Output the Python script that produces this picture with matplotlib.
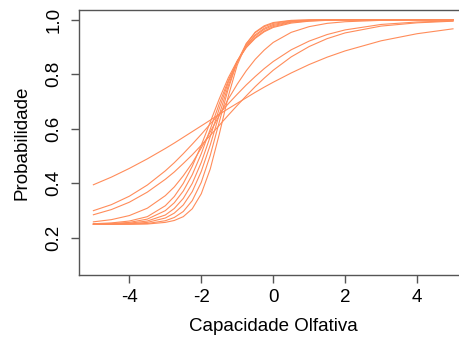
import matplotlib
matplotlib.use("Agg")
import matplotlib.pyplot as plt

plt.rcParams['font.family'] = ['Liberation Sans', 'DejaVu Sans']
plt.rcParams['axes.unicode_minus'] = False

# ability grid (Capacidade Olfativa) where each item curve is read
theta = [-5, -4.5, -4, -3.5, -3, -2.75, -2.5, -2.25, -2, -1.75, -1.5, -1.25,
         -1, -0.75, -0.5, -0.25, 0, 0.5, 1, 1.5, 2, 3, 4, 5]

# probability of a correct answer for each item
item_f = [0.395, 0.423, 0.455, 0.490, 0.528, 0.548, 0.569, 0.590, 0.611, 0.632, 0.653, 0.674,
          0.694, 0.714, 0.734, 0.753, 0.771, 0.805, 0.836, 0.863, 0.886, 0.923, 0.949, 0.967]
item_m1 = [0.300, 0.322, 0.353, 0.394, 0.446, 0.476, 0.509, 0.544, 0.580, 0.618, 0.655, 0.692,
           0.727, 0.761, 0.792, 0.821, 0.847, 0.890, 0.922, 0.946, 0.963, 0.983, 0.992, 0.996]
item_m2 = [0.285, 0.304, 0.331, 0.368, 0.415, 0.442, 0.473, 0.505, 0.540, 0.576, 0.613, 0.650,
           0.686, 0.721, 0.755, 0.786, 0.815, 0.864, 0.902, 0.931, 0.952, 0.977, 0.989, 0.995]
item_n = [0.259, 0.267, 0.282, 0.309, 0.355, 0.387, 0.428, 0.475, 0.530, 0.589, 0.649, 0.709,
          0.764, 0.813, 0.855, 0.889, 0.917, 0.954, 0.975, 0.987, 0.993, 0.998, 1.000, 1.000]
item_s1 = [0.252, 0.255, 0.262, 0.278, 0.318, 0.352, 0.400, 0.463, 0.540, 0.625, 0.710, 0.787,
           0.850, 0.898, 0.932, 0.956, 0.972, 0.988, 0.995, 0.998, 0.999, 1.000, 1.000, 1.000]
item_s2 = [0.251, 0.253, 0.257, 0.269, 0.300, 0.329, 0.372, 0.432, 0.509, 0.599, 0.692, 0.777,
           0.847, 0.899, 0.935, 0.959, 0.975, 0.991, 0.996, 0.999, 1.000, 1.000, 1.000, 1.000]
item_s3 = [0.250, 0.251, 0.254, 0.262, 0.284, 0.308, 0.345, 0.400, 0.477, 0.572, 0.674, 0.770,
           0.847, 0.904, 0.941, 0.965, 0.979, 0.993, 0.998, 0.999, 1.000, 1.000, 1.000, 1.000]
item_s4 = [0.250, 0.251, 0.252, 0.257, 0.273, 0.291, 0.321, 0.370, 0.444, 0.541, 0.652, 0.758,
           0.845, 0.906, 0.945, 0.969, 0.983, 0.995, 0.998, 1.000, 1.000, 1.000, 1.000, 1.000]
item_s5 = [0.250, 0.250, 0.251, 0.253, 0.263, 0.275, 0.297, 0.337, 0.404, 0.503, 0.625, 0.747,
           0.846, 0.913, 0.953, 0.975, 0.987, 0.997, 0.999, 1.000, 1.000, 1.000, 1.000, 1.000]
item_s6 = [0.250, 0.250, 0.250, 0.251, 0.257, 0.264, 0.278, 0.307, 0.362, 0.453, 0.580, 0.719,
           0.834, 0.911, 0.955, 0.978, 0.990, 0.998, 1.000, 1.000, 1.000, 1.000, 1.000, 1.000]

items = [item_f, item_m1, item_m2, item_n, item_s1, item_s2, item_s3, item_s4, item_s5, item_s6]

fig = plt.figure(figsize=(4.6, 3.42), dpi=100)
ax = fig.add_axes([79/460, 67/342, 388.4/460, 265/342])

for p in items:
    ax.plot(theta, p, color='#ff8c5a', lw=0.8)

ax.set_xlim(-5.4, 5.4)
ax.set_ylim(0.064, 1.036)
ax.set_xticks([-4, -2, 0, 2, 4])
ax.set_yticks([0.2, 0.4, 0.6, 0.8, 1.0])
ax.set_yticklabels(['0.2', '0.4', '0.6', '0.8', '1.0'], rotation=90, va='center')

for s in ax.spines.values():
    s.set_color('#555555')
    s.set_linewidth(1.0)
ax.tick_params(length=6, width=1, color='#555555', labelsize=13.5)
ax.tick_params(axis='x', pad=4)
ax.tick_params(axis='y', pad=6)

ax.set_xlabel('Capacidade Olfativa', fontsize=13.5, labelpad=9)
ax.set_ylabel('Probabilidade', fontsize=13.5, labelpad=11)

plt.savefig('out.png', dpi=100)
